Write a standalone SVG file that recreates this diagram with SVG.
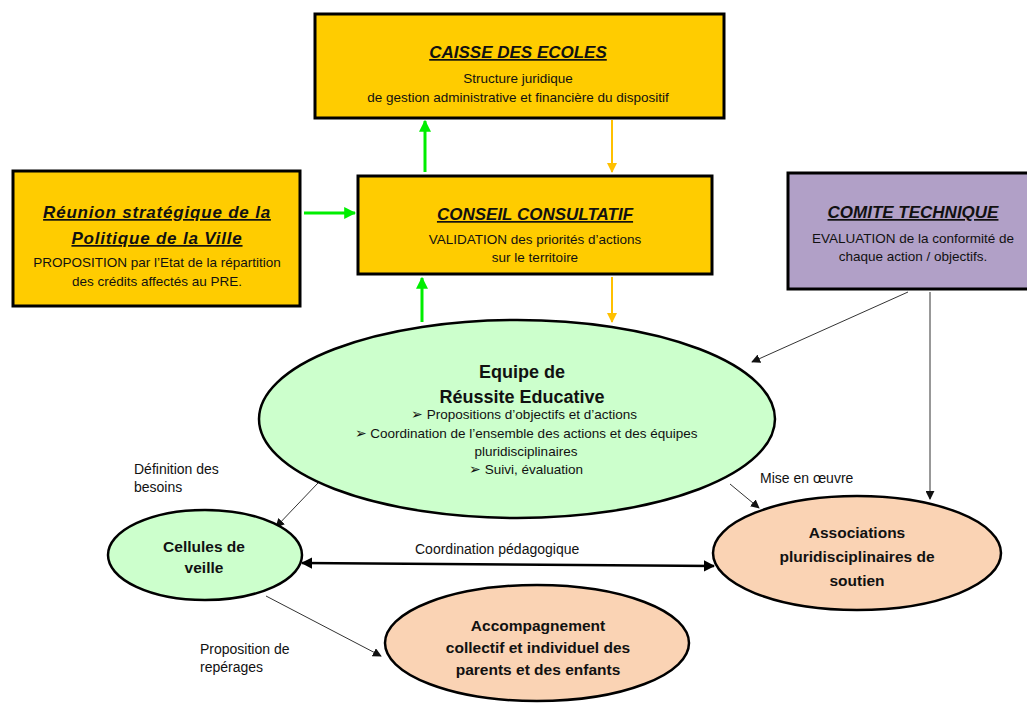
<svg xmlns="http://www.w3.org/2000/svg" width="1027" height="709" viewBox="0 0 1027 709">
<defs>
<style>
text{font-family:"Liberation Sans",Arial,sans-serif;fill:#111;text-anchor:middle}
.box{fill:#FFCC00;stroke:#000;stroke-width:3}
.purple{fill:#B1A0C7;stroke:#000;stroke-width:3}
.t{font-size:17px;font-weight:bold;font-style:italic;text-decoration:underline}
.s{font-size:13.5px}
.e{font-size:15.5px;font-weight:bold}
.e2{font-size:18px;font-weight:bold}
.green{fill:#CCFFCC;stroke:#000;stroke-width:2.5}
.peach{fill:#FAD3B4;stroke:#000;stroke-width:2.5}
.lbl{font-size:14px;text-anchor:start}
.ga{stroke:#00EE00;stroke-width:3;fill:none}
.ya{stroke:#FFC000;stroke-width:2;fill:none}
.thin{stroke:#333;stroke-width:1;fill:none}
.thick{stroke:#000;stroke-width:2.5;fill:none}
</style>
<marker id="mg" viewBox="0 0 10 10" refX="9" refY="5" markerWidth="4" markerHeight="4" orient="auto"><path d="M0,0L10,5L0,10z" fill="#00EE00"/></marker>
<marker id="my" viewBox="0 0 10 10" refX="9" refY="5" markerWidth="5" markerHeight="5" orient="auto"><path d="M0,0L10,5L0,10z" fill="#FFC000"/></marker>
<marker id="mb" viewBox="0 0 10 10" refX="9" refY="5" markerWidth="9" markerHeight="9" markerUnits="userSpaceOnUse" orient="auto"><path d="M0,0L10,5L0,10z" fill="#111"/></marker>
<marker id="mt" viewBox="0 0 10 10" refX="9" refY="5" markerWidth="4.5" markerHeight="4.5" orient="auto-start-reverse"><path d="M0,0L10,5L0,10z" fill="#000"/></marker>
</defs>

<g id="connectors">
<line class="ga" x1="425" y1="172" x2="425" y2="121" marker-end="url(#mg)"/>
<line class="ga" x1="304" y1="213" x2="355" y2="213" marker-end="url(#mg)"/>
<line class="ga" x1="422" y1="322" x2="422" y2="278" marker-end="url(#mg)"/>
<line class="ya" x1="612" y1="120" x2="612" y2="172" marker-end="url(#my)"/>
<line class="ya" x1="612" y1="277" x2="612" y2="322" marker-end="url(#my)"/>
<line class="thin" x1="908" y1="292" x2="752" y2="362" marker-end="url(#mb)"/>
<line class="thin" x1="930" y1="292" x2="930" y2="499" marker-end="url(#mb)"/>
<line class="thin" x1="318" y1="483" x2="276" y2="527" marker-end="url(#mb)"/>
<line class="thin" x1="730" y1="484" x2="759" y2="508" marker-end="url(#mb)"/>
<line class="thin" x1="266" y1="596" x2="381" y2="656" marker-end="url(#mb)"/>
<line class="thick" x1="302" y1="563" x2="714" y2="566" marker-start="url(#mt)" marker-end="url(#mt)"/>
<text class="lbl" x="134" y="474">Définition des</text>
<text class="lbl" x="134" y="492">besoins</text>
<text class="lbl" x="760" y="483">Mise en œuvre</text>
<text class="lbl" x="415" y="554">Coordination pédagogique</text>
<text class="lbl" x="200" y="654">Proposition de</text>
<text class="lbl" x="200" y="672">repérages</text>
</g>

<g id="caisse">
<rect class="box" x="315" y="14" width="409" height="104"/>
<text class="t" x="518" y="58">CAISSE DES ECOLES</text>
<text class="s" x="518" y="83">Structure juridique</text>
<text class="s" x="518" y="102">de gestion administrative et financière du dispositif</text>
</g>

<g id="reunion">
<rect class="box" x="13" y="171" width="287" height="135"/>
<text class="t" x="157" y="218" style="letter-spacing:0.8px">Réunion stratégique de la</text>
<text class="t" x="157" y="244" style="letter-spacing:0.8px">Politique de la Ville</text>
<text class="s" x="157" y="267">PROPOSITION par l’Etat de la répartition</text>
<text class="s" x="157" y="286">des crédits affectés au PRE.</text>
</g>

<g id="conseil">
<rect class="box" x="358" y="176" width="354" height="98"/>
<text class="t" x="535" y="220">CONSEIL CONSULTATIF</text>
<text class="s" x="535" y="244">VALIDATION des priorités d’actions</text>
<text class="s" x="535" y="262">sur le territoire</text>
</g>

<g id="comite">
<rect class="purple" x="788" y="173" width="242" height="116"/>
<text class="t" x="913" y="218">COMITE TECHNIQUE</text>
<text class="s" x="913" y="243">EVALUATION de la conformité de</text>
<text class="s" x="913" y="261">chaque action / objectifs.</text>
</g>

<g id="equipe">
<ellipse class="green" cx="517" cy="419" rx="258" ry="99"/>
<text class="e2" x="522" y="378">Equipe de</text>
<text class="e2" x="522" y="403">Réussite Educative</text>
<text class="s" x="524" y="419">➢ Propositions d’objectifs et d’actions</text>
<text class="s" x="526" y="438">➢ Coordination de l’ensemble des actions et des équipes</text>
<text class="s" x="526" y="456">pluridisciplinaires</text>
<text class="s" x="526" y="474">➢ Suivi, évaluation</text>
</g>

<g id="cellules">
<ellipse class="green" cx="205" cy="555" rx="97" ry="45"/>
<text class="e" x="204" y="552">Cellules de</text>
<text class="e" x="204" y="573">veille</text>
</g>

<g id="associations">
<ellipse class="peach" cx="857" cy="553" rx="144" ry="57"/>
<text class="e" x="857" y="538">Associations</text>
<text class="e" x="857" y="562">pluridisciplinaires de</text>
<text class="e" x="857" y="586">soutien</text>
</g>

<g id="accompagnement">
<ellipse class="peach" cx="537" cy="643" rx="152" ry="58"/>
<text class="e" x="538" y="631">Accompagnement</text>
<text class="e" x="538" y="653">collectif et individuel des</text>
<text class="e" x="538" y="675">parents et des enfants</text>
</g>
</svg>
